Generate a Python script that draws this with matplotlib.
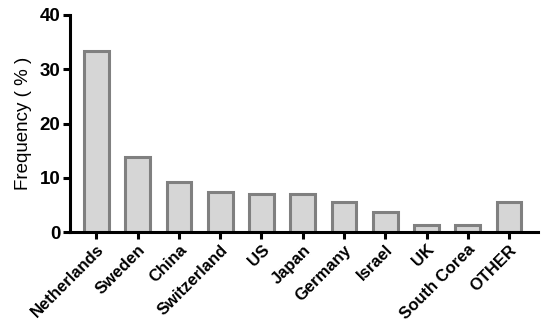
import matplotlib
matplotlib.use("Agg")
import matplotlib.pyplot as plt

countries = ["Netherlands", "Sweden", "China", "Switzerland", "US", "Japan",
             "Germany", "Israel", "UK", "South Corea", "OTHER"]
frequency = [33.3, 13.9, 9.3, 7.4, 7.1, 7.1, 5.6, 3.7, 1.4, 1.4, 5.6]

plt.rcParams["font.family"] = ["Liberation Sans", "DejaVu Sans"]

fig = plt.figure(figsize=(5.5, 3.3), dpi=100)
ax = fig.add_axes([0.127, 0.296, 0.851, 0.659])

x = list(range(len(countries)))
ax.bar(x, frequency, width=0.6, color="#d6d6d6", edgecolor="#808080", linewidth=2.2)

ax.set_xlim(-0.645, 10.7)
ax.set_ylim(0, 40)
ax.set_yticks([0, 10, 20, 30, 40])
ax.set_xticks(x)
ax.set_xticklabels(countries, rotation=45, ha="right", rotation_mode="anchor",
                   fontsize=12, fontweight="bold")
for lbl in ax.get_yticklabels():
    lbl.set_fontweight("bold")
    lbl.set_fontsize(13.5)
ax.set_ylabel("Frequency ( % )", fontsize=13.5, labelpad=5)

for s in ["top", "right"]:
    ax.spines[s].set_visible(False)
for s in ["left", "bottom"]:
    ax.spines[s].set_linewidth(2.2)
ax.tick_params(axis="both", direction="out", length=5, width=2.2, pad=2)

fig.savefig("out.png", dpi=100)
